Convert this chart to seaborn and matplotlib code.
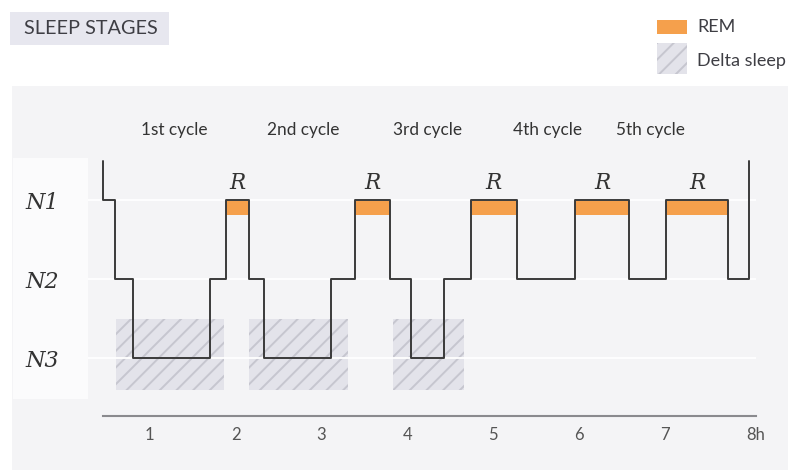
import matplotlib
matplotlib.use("Agg")
import matplotlib.pyplot as plt
import matplotlib.transforms as mtransforms
from matplotlib.patches import Rectangle
import seaborn as sns
import pandas as pd

# ---- data ----
stage_levels = {"W": 0.5, "N1": 1, "N2": 2, "N3": 3}
hypno_times = [0.455, 0.455, 0.60, 0.80, 1.70, 1.885, 2.16, 2.33, 3.11, 3.39,
               3.80, 4.04, 4.43, 4.74, 5.28, 5.96, 6.59, 7.02, 7.74, 7.98]
hypno_stages = ["W", "N1", "N2", "N3", "N2", "N1", "N2", "N3", "N2", "N1",
                "N2", "N3", "N2", "N1", "N2", "N1", "N2", "N1", "N2", "W"]
rem_start = [1.885, 3.39, 4.74, 5.96, 7.02]
rem_end = [2.16, 3.80, 5.28, 6.59, 7.74]
delta_start = [0.61, 2.16, 3.83]
delta_end = [1.86, 3.31, 4.66]
cycle_labels = ["1st cycle", "2nd cycle", "3rd cycle", "4th cycle", "5th cycle"]
cycle_pos = [1.29, 2.785, 4.24, 5.63, 6.83]
y_tick_labels = ["N1", "N2", "N3"]
x_ticks = [1, 2, 3, 4, 5, 6, 7, 8]
x_tick_labels = ["1", "2", "3", "4", "5", "6", "7", "8h"]

# ---- style ----
sns.set_theme(style="white")
plt.rcParams["font.family"] = ["Lato", "DejaVu Sans"]
plt.rcParams["hatch.linewidth"] = 1.4

W, H = 788, 470
fig = plt.figure(figsize=(W / 100, H / 100), dpi=100)
fig.patch.set_facecolor("white")

def fx(px):
    return px / W

def fy(py):
    return 1 - py / H

# background panels
fig.patches.append(Rectangle((fx(12), 0), fx(776), fy(86),
                             transform=fig.transFigure, facecolor="#f4f4f6",
                             edgecolor="none", zorder=-10))
fig.patches.append(Rectangle((fx(13), fy(399)), fx(75), (399 - 158) / H,
                             transform=fig.transFigure, facecolor="#fbfbfc",
                             edgecolor="none", zorder=-9))
# title box
fig.patches.append(Rectangle((fx(10), fy(45)), fx(159), 33 / H,
                             transform=fig.transFigure, facecolor="#e7e7ef",
                             edgecolor="none", zorder=-9))
fig.text(fx(24), fy(29), "SLEEP STAGES", fontsize=14.3, color="#3e3e44",
         va="center", ha="left")

# legend
fig.patches.append(Rectangle((fx(657), fy(34)), fx(30), 14 / H,
                             transform=fig.transFigure, facecolor="#f5a04c",
                             edgecolor="none"))
fig.patches.append(Rectangle((fx(657), fy(74)), fx(30), 31 / H,
                             transform=fig.transFigure, facecolor="#e3e3ea",
                             edgecolor="#c6c6cf", linewidth=0, hatch="//"))
fig.text(fx(697), fy(27), "REM", fontsize=13, color="#3e3e44", va="center")
fig.text(fx(697), fy(61), "Delta sleep", fontsize=13, color="#3e3e44", va="center")

# main axes
ax = fig.add_axes([fx(88), fy(416), fx(756 - 88), (416 - 86) / H])
ax.set_facecolor("none")

df = pd.DataFrame({"time": hypno_times,
                   "level": [stage_levels[s] for s in hypno_stages]})

# delta sleep hatched regions
for s, e in zip(delta_start, delta_end):
    ax.bar(s, 0.9, width=e - s, bottom=2.5, align="edge",
           facecolor="#e3e3ea", edgecolor="#c6c6cf", linewidth=0,
           hatch="//", zorder=1)

# REM bars
for s, e in zip(rem_start, rem_end):
    ax.bar(s, 0.19, width=e - s, bottom=1, align="edge",
           color="#f5a04c", linewidth=0, zorder=1)

sns.lineplot(data=df, x="time", y="level", drawstyle="steps-post",
             estimator=None, sort=False, ax=ax, color="#3a3a3a", lw=1.4,
             zorder=3)

# labels
for s, e in zip(rem_start, rem_end):
    ax.text((s + e) / 2, 0.78, "R", ha="center", va="center",
            family="DejaVu Serif", style="italic", fontsize=15.5, color="#333")
for lab, p in zip(cycle_labels, cycle_pos):
    ax.text(p, 0.114, lab, ha="center", va="center", fontsize=12.4, color="#333")

ax.set_xlim(0.28, 8.065)
ax.set_ylim(3.734, -0.443)
ax.set_yticks([1, 2, 3])
ax.set_yticklabels(y_tick_labels, family="DejaVu Serif", style="italic",
                   fontsize=16, color="#333")
ax.set_xticks(x_ticks)
ax.set_xticklabels(x_tick_labels, fontsize=12, color="#555")
ax.tick_params(axis="x", length=0, pad=8)
ax.tick_params(axis="y", length=0, pad=21)
ax.set_xlabel("")
ax.set_ylabel("")

last = ax.get_xticklabels()[-1]
last.set_transform(last.get_transform() +
                   mtransforms.ScaledTranslation(5 / 100, 0, fig.dpi_scale_trans))

ax.yaxis.grid(True, color="white", lw=1.3)
ax.xaxis.grid(False)
ax.set_axisbelow("line")

for side in ["top", "right", "left"]:
    ax.spines[side].set_visible(False)
ax.spines["bottom"].set_visible(True)
ax.spines["bottom"].set_color("#8a8a8e")
ax.spines["bottom"].set_linewidth(1.5)
ax.spines["bottom"].set_bounds(0.45, 8.065)

fig.savefig("out.png", dpi=100)
